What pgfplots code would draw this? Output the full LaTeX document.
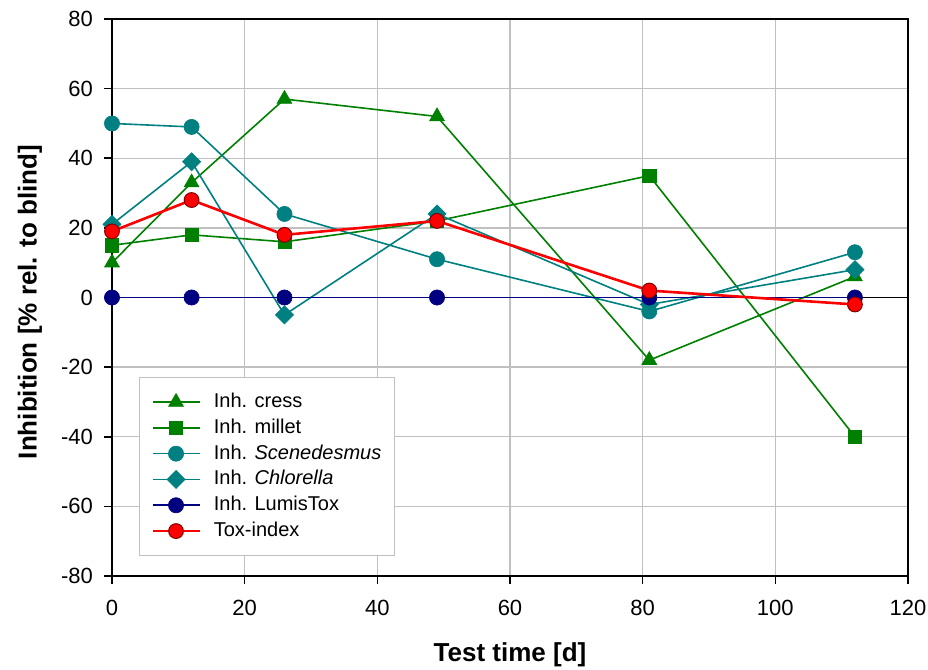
\documentclass[border=0pt]{standalone}
\usepackage{pgfplots}
\pgfplotsset{compat=1.18}
\usepackage{fontspec}
\setmainfont{Liberation Sans}

\definecolor{cgreen}{RGB}{0,128,0}
\definecolor{cteal}{RGB}{0,128,128}
\definecolor{cnavy}{RGB}{0,0,128}
\definecolor{cred}{RGB}{255,0,0}
\definecolor{cdred}{RGB}{128,0,0}
\definecolor{cgrid}{RGB}{192,192,192}

\begin{document}
\begin{tikzpicture}
\begin{axis}[
    at={(0,0)}, anchor=south west,
    scale only axis,
    width=398pt, height=278.5pt,
    xmin=0, xmax=120, ymin=-80, ymax=80,
    xtick={0,20,...,120},
    ytick={-80,-60,...,80},
    grid=major,
    grid style={cgrid, line width=0.7pt},
    axis line style={black, line width=0.8pt},
    tick align=outside, tick pos=left,
    major tick length=4pt,
    tick style={black, line width=0.8pt},
    /pgf/number format/assume math mode=true,
    ticklabel style={font=\fontsize{11}{13}\selectfont},
    xticklabel style={yshift=-4.5pt},
    yticklabel style={xshift=-2pt},
    xlabel={\textbf{Test time [d]}},
    ylabel={\textbf{Inhibition [\% rel. to blind]}},
    label style={font=\fontsize{13}{15}\selectfont},
    xlabel style={at={(axis description cs:0.5,-0.142)}, anchor=center},
    ylabel style={at={(axis description cs:-0.103,0.492)}, anchor=center},
    legend style={
        at={(axis cs:4,-22.8)}, anchor=north west,
        draw=cgrid, line width=0.7pt,
        font=\fontsize{10}{12}\selectfont,
        inner xsep=6pt, inner ysep=7pt,
        row sep=2.4pt,
        /tikz/column 1/.style={column sep=6pt},
        nodes={inner sep=0.5pt, text height=7.5pt, text depth=2pt},
    },
    legend cell align=left,
    legend image code/.code={
        \draw[mark repeat=2, mark phase=2, #1]
            plot coordinates {(0pt,0pt) (11.75pt,0pt) (23.5pt,0pt)};
    },
]
% zero line of the chart
\addplot[black, line width=0.8pt, forget plot] coordinates {(0,0) (120,0)};

\addplot[cgreen, line width=0.8pt, mark=triangle*, mark size=4.3pt,
    mark options={fill=cgreen, draw=cgreen, line width=0.3pt}]
    coordinates {(0,10) (12,33) (26,57) (49,52) (81,-18) (112,6)};
\addlegendentry{Inh. cress}

\addplot[cgreen, line width=0.8pt, mark=square*, mark size=3.3pt,
    mark options={fill=cgreen, draw=cgreen, line width=0.3pt}]
    coordinates {(0,15) (12,18) (26,16) (49,22) (81,35) (112,-40)};
\addlegendentry{Inh. millet}

\addplot[cteal, line width=0.8pt, mark=*, mark size=3.8pt,
    mark options={fill=cteal, draw=cteal, line width=0.3pt}]
    coordinates {(0,50) (12,49) (26,24) (49,11) (81,-4) (112,13)};
\addlegendentry{Inh. \textit{Scenedesmus}}

\addplot[cteal, line width=0.8pt, mark=square*, mark size=3.2pt,
    mark options={rotate=45, fill=cteal, draw=cteal, line width=0.3pt}]
    coordinates {(0,21) (12,39) (26,-5) (49,24) (81,-2) (112,8)};
\addlegendentry{Inh. \textit{Chlorella}}

\addplot[cnavy, line width=0.8pt, mark=*, mark size=3.8pt,
    mark options={fill=cnavy, draw=cnavy, line width=0.3pt}]
    coordinates {(0,0) (12,0) (26,0) (49,0) (81,0) (112,0)};
\addlegendentry{Inh. LumisTox}

\addplot[cred, line width=1.3pt, mark=*, mark size=3.7pt,
    mark options={fill=cred, draw=cdred, line width=0.5pt}]
    coordinates {(0,19) (12,28) (26,18) (49,22) (81,2) (112,-2)};
\addlegendentry{Tox-index}
\end{axis}
\pgfresetboundingbox
\path (-56pt,-47pt) rectangle (408pt,288pt);
\end{tikzpicture}
\end{document}
